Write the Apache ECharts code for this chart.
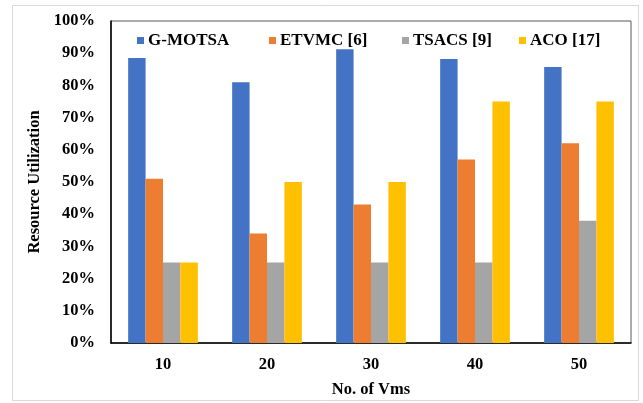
<!DOCTYPE html>
<html>
<head>
<meta charset="utf-8">
<script src="https://cdn.jsdelivr.net/npm/echarts@6/dist/echarts.min.js"></script>
<style>
  html, body { margin: 0; padding: 0; background: #fff; }
  #chart { width: 643px; height: 403px; }
</style>
</head>
<body>
<div id="chart"></div>
<script>
// Resource utilization (%) per number of VMs
const categories = ['10', '20', '30', '40', '50'];
const seriesNames = ['G-MOTSA', 'ETVMC [6]', 'TSACS [9]', 'ACO [17]'];
const gMotsa = [88.5, 81, 91.2, 88.2, 85.7];
const etvmc = [51, 34, 43, 57, 62];
const tsacs = [25, 25, 25, 25, 38];
const aco = [25, 50, 50, 75, 75];
const yTicks = [0, 10, 20, 30, 40, 50, 60, 70, 80, 90, 100];

const colors = ['#4472C4', '#ED7D31', '#A5A5A5', '#FFC000'];
const values = [gMotsa, etvmc, tsacs, aco];
const font = '"Liberation Serif", "Times New Roman", serif';
const legendLefts = [137, 269, 402, 519];

const chart = echarts.init(document.getElementById('chart'), null, { renderer: 'canvas' });

chart.setOption({
  animation: false,
  backgroundColor: '#fff',
  color: colors,
  graphic: [{
    type: 'rect',
    shape: { x: 12.5, y: 5.5, width: 626, height: 395 },
    style: { fill: 'none', stroke: '#d9d9d9', lineWidth: 1 },
    silent: true,
    z: -1
  }],
  // one legend block per series so each entry sits at its own spot
  legend: seriesNames.map((name, i) => ({
    left: legendLefts[i],
    top: 32,
    padding: 0,
    itemWidth: 7,
    itemHeight: 7,
    icon: 'rect',
    textStyle: { fontFamily: font, fontWeight: 'bold', fontSize: 17, color: '#000', padding: [0, 0, 0, -1] },
    data: [name]
  })),
  grid: {
    left: 111,
    top: 21,
    right: 12,
    bottom: 60,
    show: true,
    borderColor: '#595959',
    borderWidth: 1,
    backgroundColor: 'transparent'
  },
  xAxis: {
    type: 'category',
    data: categories,
    name: 'No. of Vms',
    nameLocation: 'middle',
    nameGap: 38,
    nameTextStyle: { fontFamily: font, fontWeight: 'bold', fontSize: 16.5, color: '#000' },
    axisLine: { lineStyle: { color: '#000', width: 1.5 } },
    axisTick: { show: false },
    axisLabel: { fontFamily: font, fontWeight: 'bold', fontSize: 16.5, color: '#000', margin: 13 }
  },
  yAxis: {
    type: 'value',
    min: yTicks[0],
    max: yTicks[yTicks.length - 1],
    interval: yTicks[1] - yTicks[0],
    name: 'Resource Utilization',
    nameLocation: 'middle',
    nameGap: 62,
    nameTextStyle: { fontFamily: font, fontWeight: 'bold', fontSize: 16.5, color: '#000' },
    axisLine: { show: true, lineStyle: { color: '#000', width: 1.5 } },
    axisTick: { show: false },
    splitLine: { show: false },
    axisLabel: {
      fontFamily: font, fontWeight: 'bold', fontSize: 16.5, color: '#000', margin: 16,
      formatter: '{value}%'
    }
  },
  series: seriesNames.map((name, i) => ({
    name: name,
    type: 'bar',
    data: values[i],
    barGap: '0%',
    barCategoryGap: '33%',
    itemStyle: { color: colors[i] }
  }))
});
</script>
</body>
</html>
